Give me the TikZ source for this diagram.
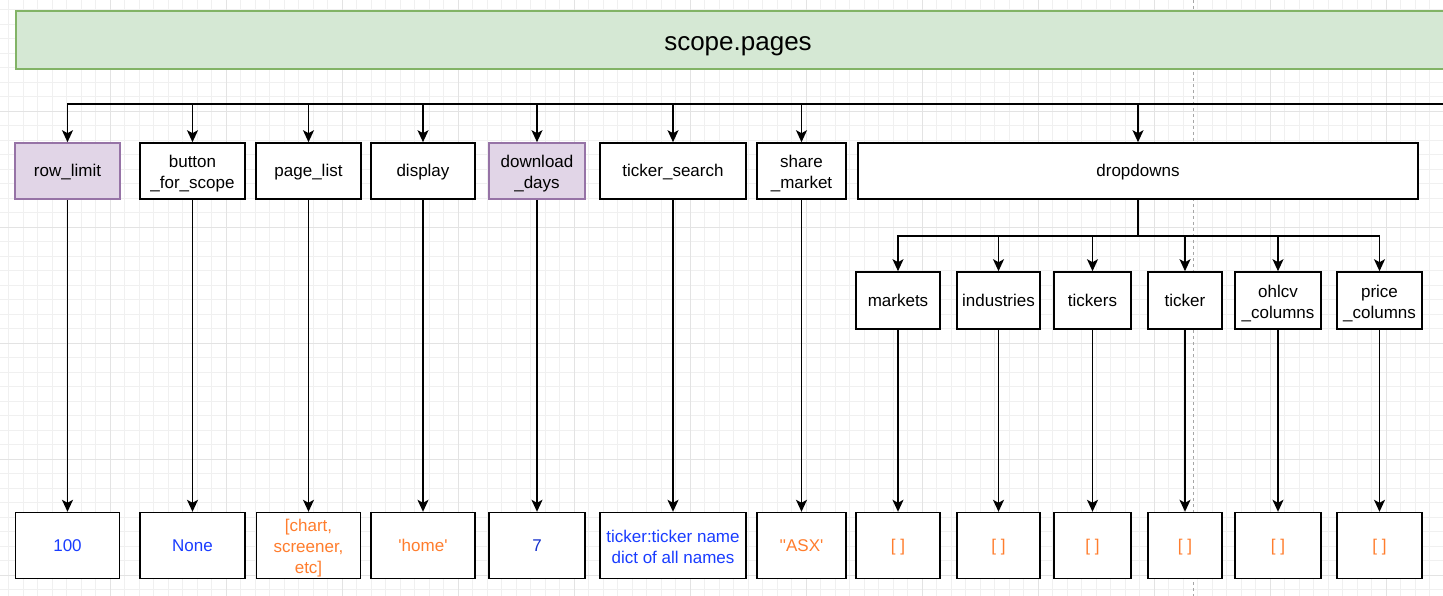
\documentclass[tikz,border=0pt]{standalone}
\usepackage{fontspec}
\setmainfont{Liberation Sans}[Ligatures=TeXOff]
\usetikzlibrary{arrows.meta,positioning}
\definecolor{hgreen}{HTML}{D5E8D4}
\definecolor{hgreenline}{HTML}{82B366}
\definecolor{lpurple}{HTML}{E1D5E7}
\definecolor{lpurpleline}{HTML}{9673A6}
\definecolor{vblue}{RGB}{25,60,255}
\definecolor{vorange}{RGB}{255,125,45}
\newcommand\linestrut{\rule[-3.6pt]{0pt}{18.8pt}}
\newcommand\topstrut{\rule{0pt}{18pt}}

\begin{document}
\begin{tikzpicture}[x=1pt,y=-1pt,>={Stealth[length=12pt,width=11pt,inset=3pt]},line width=1.6pt,
  key node/.style={rectangle,draw,fill=white,minimum height=56pt,inner sep=0pt,
    align=center,font=\fontsize{17}{21}\selectfont,
    execute at begin node=\linestrut,execute at end node=\linestrut},
  flag node/.style={key node,fill=lpurple,draw=lpurpleline},
  child node/.style={key node,minimum height=57pt},
  value node/.style={key node,minimum height=66pt},
  header node/.style={rectangle,draw=hgreenline,fill=hgreen,minimum width=1444pt,
    minimum height=58pt,text height=26.6pt,text depth=5.2pt,font=\fontsize{26}{31}\selectfont},
  bus/.style={to path={-| (\tikztotarget)}},
  minor grid/.style={line width=0.6pt,draw=black!6},
  major grid/.style={line width=0.6pt,draw=black!11}]
  \useasboundingbox (0,0) rectangle (1443,596);
  \fill[white] (0,0) rectangle (1443,596);
  % editor grid
  \foreach \x in {8.5,23,...,1443} \draw[minor grid] (\x,0) -- (\x,596);
  \foreach \y in {9.5,24,...,596} \draw[minor grid] (0,\y) -- (1443,\y);
  \foreach \x in {110,226,...,1443} \draw[major grid] (\x,0) -- (\x,596);
  \foreach \y in {111,227,...,596} \draw[major grid] (0,\y) -- (1443,\y);
  \draw[line width=0.6pt,draw=black!35,dash pattern=on 3pt off 3pt] (1193,0) -- (1193,596);

  \node[header node] (pages) at (738,40) {scope.pages};

  % keys
  \node[flag node,minimum width=105pt] (rowlimit) at (67.5,171) {row\_limit};
  \node[key node,minimum width=105pt] (button) at (192.5,171) {\topstrut button\\\_for\_scope};
  \node[key node,minimum width=105pt] (pagelist) at (308.5,171) {page\_list};
  \node[key node,minimum width=104pt] (display) at (423,171) {display};
  \node[flag node,minimum width=96pt] (downloaddays) at (537,171) {\topstrut download\\\_days};
  \node[key node,minimum width=146pt] (tickersearch) at (673,171) {ticker\_search};
  \node[key node,minimum width=89pt] (sharemarket) at (801.5,171) {\topstrut share\\\_market};
  \node[key node,minimum width=560pt] (dropdowns) at (1138,171) {dropdowns};

  % dropdown keys
  \node[child node,minimum width=84pt] (markets) at (898,300.5) {markets};
  \node[child node,minimum width=83pt] (industries) at (998.5,300.5) {industries};
  \node[child node,minimum width=77pt] (tickers) at (1092.5,300.5) {tickers};
  \node[child node,minimum width=74pt] (ticker) at (1185,300.5) {ticker};
  \node[child node,minimum width=86pt] (ohlcv) at (1278,300.5) {\topstrut ohlcv\\\_columns};
  \node[child node,minimum width=85pt] (price) at (1379.5,300.5) {\topstrut price\\\_columns};

  % values
  \node[value node,minimum width=104pt,text=vblue,below=312pt of rowlimit] (rowlimitval) {100};
  \node[value node,minimum width=105pt,text=vblue,below=312pt of button] (buttonval) {None};
  \node[value node,minimum width=104pt,text=vorange,below=312pt of pagelist] (pagelistval) {\topstrut[chart,\\screener,\\etc]};
  \node[value node,minimum width=104pt,text=vorange,below=312pt of display] (displayval) {'home'};
  \node[value node,minimum width=96pt,text=vblue!80!black,below=312pt of downloaddays] (downloaddaysval) {7};
  \node[value node,minimum width=146pt,text=vblue,below=312pt of tickersearch] (tickersearchval) {\topstrut ticker:ticker name\\dict of all names};
  \node[value node,minimum width=89pt,text=vorange,below=312pt of sharemarket] (sharemarketval) {''ASX'};
  \node[value node,minimum width=84pt,text=vorange,below=182pt of markets] (marketsval) {[ ]};
  \node[value node,minimum width=83pt,text=vorange,below=182pt of industries] (industriesval) {[ ]};
  \node[value node,minimum width=77pt,text=vorange,below=182pt of tickers] (tickersval) {[ ]};
  \node[value node,minimum width=74pt,text=vorange,below=182pt of ticker] (tickerval) {[ ]};
  \node[value node,minimum width=86pt,text=vorange,below=182pt of ohlcv] (ohlcvval) {[ ]};
  \node[value node,minimum width=85pt,text=vorange,below=182pt of price] (priceval) {[ ]};

  \coordinate (busend) at (1443,104);
  \coordinate (split) at (1138,236);

  \path[->]
    (busend) edge[bus] (rowlimit)
    (busend) edge[bus] (button)
    (busend) edge[bus] (pagelist)
    (busend) edge[bus] (display)
    (busend) edge[bus] (downloaddays)
    (busend) edge[bus] (tickersearch)
    (busend) edge[bus] (sharemarket)
    (busend) edge[bus] (dropdowns);
  \draw[line width=2.2pt] (dropdowns) -- (split);
  \path[->]
    (split) edge[bus] (markets)
    (split) edge[bus] (industries)
    (split) edge[bus] (tickers)
    (split) edge[bus] (ticker)
    (split) edge[bus] (ohlcv)
    (split) edge[bus] (price);
  \path[->]
    (rowlimit) edge (rowlimitval)
    (button) edge (buttonval)
    (pagelist) edge (pagelistval)
    (display) edge (displayval)
    (downloaddays) edge (downloaddaysval)
    (tickersearch) edge (tickersearchval)
    (sharemarket) edge (sharemarketval)
    (markets) edge (marketsval)
    (industries) edge (industriesval)
    (tickers) edge (tickersval)
    (ticker) edge (tickerval)
    (ohlcv) edge (ohlcvval)
    (price) edge (priceval);
\end{tikzpicture}
\end{document}
